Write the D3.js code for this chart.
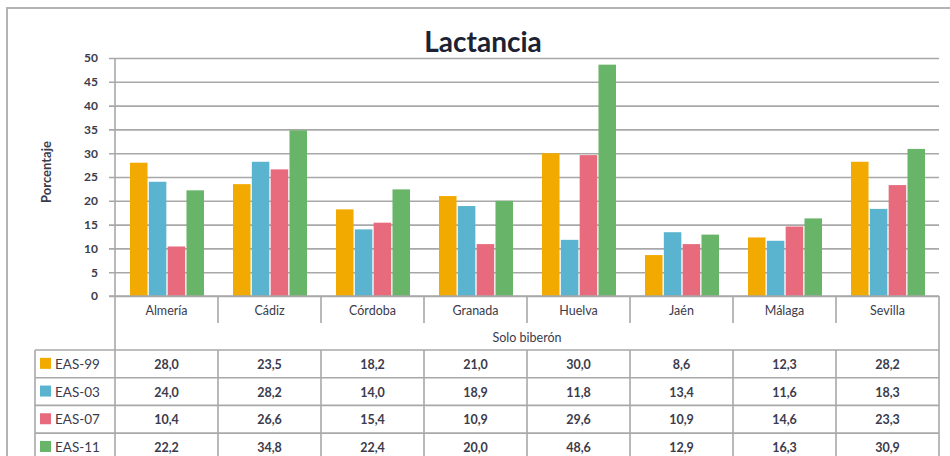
<!DOCTYPE html>
<html>
<head>
<meta charset="utf-8">
<script src="https://cdn.jsdelivr.net/npm/d3@7"></script>
<style>
  html, body { margin: 0; padding: 0; background: #fff; }
  svg { display: block; font-family: Lato, "Open Sans", sans-serif; }
</style>
</head>
<body>
<svg id="chart" width="950" height="456"></svg>
<script>
// Provincias andaluzas
const categories = ["Almería", "Cádiz", "Córdoba", "Granada", "Huelva", "Jaén", "Málaga", "Sevilla"];
const seriesNames = ["EAS-99", "EAS-03", "EAS-07", "EAS-11"];
const seriesColors = ["#F2AA00", "#5BB4CF", "#E86A7D", "#68B468"];

// Porcentaje de lactancia con solo biberón, por encuesta
const eas99 = [28.0, 23.5, 18.2, 21.0, 30.0, 8.6, 12.3, 28.2];
const eas03 = [24.0, 28.2, 14.0, 18.9, 11.8, 13.4, 11.6, 18.3];
const eas07 = [10.4, 26.6, 15.4, 10.9, 29.6, 10.9, 14.6, 23.3];
const eas11 = [22.2, 34.8, 22.4, 20.0, 48.6, 12.9, 16.3, 30.9];
const seriesValues = [eas99, eas03, eas07, eas11];

const yTicks = [0, 5, 10, 15, 20, 25, 30, 35, 40, 45, 50];

const svg = d3.select("#chart");
const lineCol = "#a8a8a8";
const textCol = "#3b3b4b";

const plot = { left: 115, right: 939, top: 58, bottom: 296 };

const x0 = d3.scaleBand().domain(categories).range([plot.left, plot.right]);
const x1 = d3.scaleBand().domain(seriesNames)
  .range([15, x0.bandwidth() - 14]).paddingInner(0.07);
const y = d3.scaleLinear().domain([0, 50]).range([plot.bottom, plot.top]);

// Marco exterior
svg.append("rect")
  .attr("x", 7).attr("y", 8).attr("width", 960).attr("height", 470)
  .attr("fill", "none").attr("stroke", "#b4b4b4").attr("stroke-width", 2);

// Título
svg.append("text")
  .attr("x", 483).attr("y", 52)
  .attr("text-anchor", "middle")
  .attr("font-size", 28).attr("font-weight", "bold")
  .attr("fill", "#1c2233")
  .text("Lactancia");

// Eje Y con líneas de cuadrícula
const yAxis = d3.axisLeft(y).tickValues(yTicks).tickSize(6).tickFormat(d3.format("d"));
const gy = svg.append("g").attr("transform", `translate(${plot.left},0)`).call(yAxis);
gy.select(".domain").remove();
gy.selectAll(".tick line").attr("stroke", lineCol).attr("stroke-width", 1.6)
  .attr("x1", -6).attr("x2", plot.right - plot.left);
gy.selectAll(".tick text")
  .attr("x", -17).attr("fill", textCol)
  .attr("font-size", 12).attr("font-weight", "bold").attr("font-family", "Lato, sans-serif");

// Título del eje Y
svg.append("text")
  .attr("transform", "translate(51,172) rotate(-90)")
  .attr("text-anchor", "middle")
  .attr("font-size", 13).attr("font-weight", "bold")
  .attr("fill", textCol)
  .text("Porcentaje");

// Barras
const groups = svg.append("g").selectAll("g")
  .data(categories)
  .join("g")
  .attr("transform", d => `translate(${x0(d)},0)`);

groups.selectAll("rect")
  .data((d, i) => seriesNames.map((s, k) => ({ s, k, v: seriesValues[k][i] })))
  .join("rect")
  .attr("x", d => x1(d.s))
  .attr("width", x1.bandwidth())
  .attr("y", d => y(d.v))
  .attr("height", d => y(0) - y(d.v))
  .attr("fill", d => seriesColors[d.k]);

// Tabla de datos
const rowTop = 350, rowH = 27.7;
const tableLeft = 35;
const lines = svg.append("g").attr("stroke", lineCol).attr("stroke-width", 1.6);

// eje vertical del área de trazado, continúa por la tabla
lines.append("line").attr("x1", plot.left).attr("x2", plot.left).attr("y1", plot.top).attr("y2", 470);
// línea base
lines.append("line").attr("x1", plot.left - 6).attr("x2", plot.right).attr("y1", plot.bottom).attr("y2", plot.bottom);
// borde derecho de la tabla
lines.append("line").attr("x1", plot.right).attr("x2", plot.right).attr("y1", plot.bottom).attr("y2", 470);
// separadores de categorías en la cabecera
categories.slice(1).forEach(c => {
  lines.append("line").attr("x1", x0(c)).attr("x2", x0(c)).attr("y1", plot.bottom).attr("y2", 323);
  lines.append("line").attr("x1", x0(c)).attr("x2", x0(c)).attr("y1", rowTop).attr("y2", 470);
});
// filas
for (let r = 0; r <= seriesNames.length; r++) {
  const yy = rowTop + r * rowH;
  lines.append("line").attr("x1", tableLeft).attr("x2", plot.right).attr("y1", yy).attr("y2", yy);
}
lines.append("line").attr("x1", tableLeft).attr("x2", tableLeft).attr("y1", rowTop).attr("y2", 470);

// etiquetas de categoría
svg.append("g").selectAll("text")
  .data(categories)
  .join("text")
  .attr("x", d => x0(d) + x0.bandwidth() / 2)
  .attr("y", 315)
  .attr("text-anchor", "middle")
  .attr("font-size", 12.5)
  .attr("fill", textCol)
  .text(d => d);

svg.append("text")
  .attr("x", (plot.left + plot.right) / 2).attr("y", 342)
  .attr("text-anchor", "middle")
  .attr("font-size", 12.5)
  .attr("fill", textCol)
  .text("Solo biberón");

// leyenda y valores
const fmt = v => d3.format(".1f")(v).replace(".", ",");
seriesNames.forEach((s, k) => {
  const cy = rowTop + k * rowH + rowH / 2;
  svg.append("rect")
    .attr("x", 40).attr("y", cy - 6).attr("width", 11).attr("height", 11)
    .attr("fill", seriesColors[k]);
  svg.append("text")
    .attr("x", 55).attr("y", cy + 5)
    .attr("font-size", 13.5)
    .attr("fill", textCol)
    .text(s);
  svg.append("g").selectAll("text")
    .data(seriesValues[k])
    .join("text")
    .attr("x", (d, i) => x0(categories[i]) + x0.bandwidth() / 2)
    .attr("y", cy + 5)
    .attr("text-anchor", "middle")
    .attr("font-size", 12.5)
    .attr("font-weight", "bold")
    .attr("fill", textCol)
    .text(d => fmt(d));
});
</script>
</body>
</html>
